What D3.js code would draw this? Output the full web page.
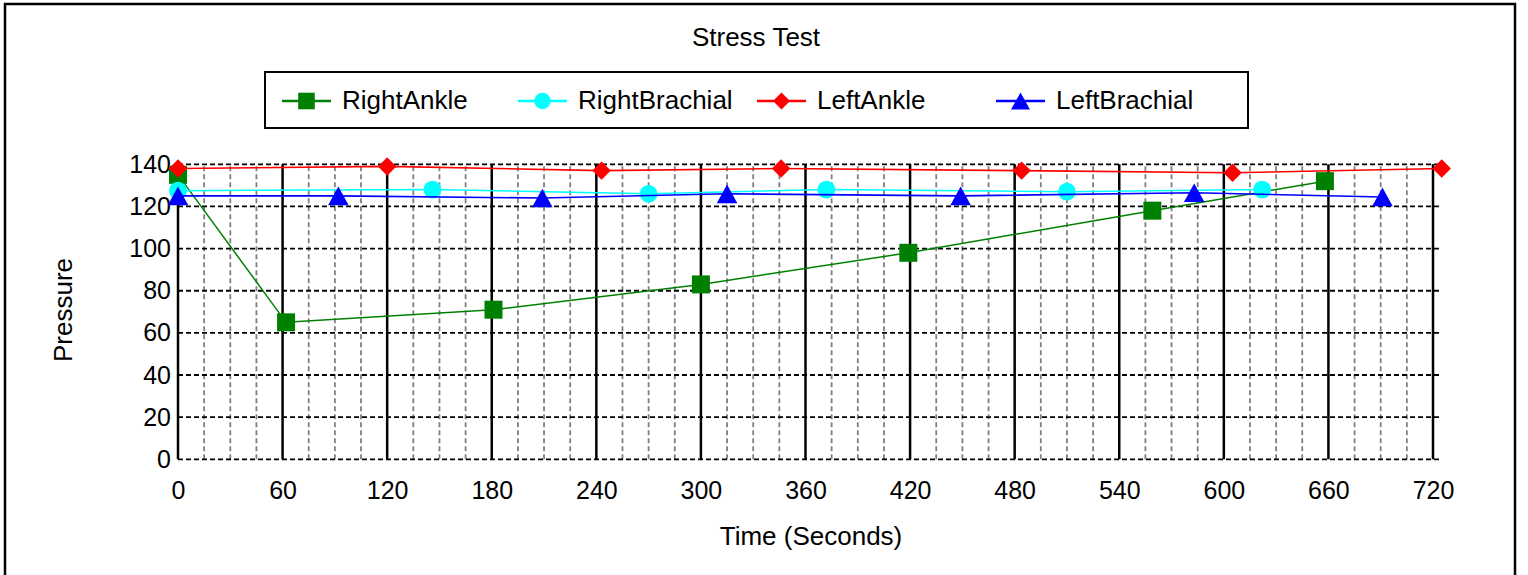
<!DOCTYPE html>
<html lang="en">
<head>
    <meta charset="UTF-8">
    <title>Stress Test</title>
    <script src="https://d3js.org/d3.v7.min.js"></script>
    <style>
        body { margin: 0; background: #fff; }
        svg { display: block; font-family: "Liberation Sans", Arial, sans-serif; }
    </style>
</head>
<body>
    <svg id="chart" width="1528" height="575"></svg>
    <script>
        // series data (seconds, pressure)
        const seriesNames = ["RightAnkle", "RightBrachial", "LeftAnkle", "LeftBrachial"];
        const rightAnkleTime = [0, 62, 181, 300, 419, 559, 658];
        const rightAnkleValue = [135, 65, 71, 83, 98, 118, 132];
        const rightBrachialTime = [0, 146, 270, 372, 510, 622];
        const rightBrachialValue = [127.5, 128, 126, 128, 127, 128];
        const leftAnkleTime = [0, 120, 243, 346, 484, 605, 725];
        const leftAnkleValue = [138, 139, 137, 138, 137, 136, 138];
        const leftBrachialTime = [0, 92, 209, 315, 449, 583, 691];
        const leftBrachialValue = [125, 125, 124, 126, 125, 126.5, 124.5];

        const xTicks = [0, 60, 120, 180, 240, 300, 360, 420, 480, 540, 600, 660, 720];
        const yTicks = [0, 20, 40, 60, 80, 100, 120, 140];

        const svg = d3.select("#chart");

        const x = d3.scaleLinear().domain([0, 720]).range([178, 1433]);
        const y = d3.scaleLinear().domain([0, 140]).range([459.3, 164.3]);

        // custom marker shapes
        const diamond = {
            draw(ctx, size) {
                const r = Math.sqrt(size) / 2;
                ctx.moveTo(0, -r); ctx.lineTo(r, 0); ctx.lineTo(0, r); ctx.lineTo(-r, 0); ctx.closePath();
            }
        };
        const triangle = {
            draw(ctx, size) {
                const r = Math.sqrt(size) / 2;
                ctx.moveTo(0, -r); ctx.lineTo(r * 1.1, r); ctx.lineTo(-r * 1.1, r); ctx.closePath();
            }
        };

        const series = [
            { name: seriesNames[0], t: rightAnkleTime, v: rightAnkleValue, color: "#008000", type: d3.symbolSquare, size: 324, lw: 1.5 },
            { name: seriesNames[1], t: rightBrachialTime, v: rightBrachialValue, color: "#00FFFF", type: d3.symbolCircle, size: 250, lw: 1.5 },
            { name: seriesNames[2], t: leftAnkleTime, v: leftAnkleValue, color: "#FF0000", type: diamond, size: 340, lw: 1.6 },
            { name: seriesNames[3], t: leftBrachialTime, v: leftBrachialValue, color: "#0000FF", type: triangle, size: 350, lw: 1.6 }
        ];

        // outer frame
        svg.append("rect")
            .attr("x", 5).attr("y", 4)
            .attr("width", 1510).attr("height", 620)
            .attr("fill", "none").attr("stroke", "#000").attr("stroke-width", 2.5);

        // title
        svg.append("text")
            .attr("x", 756).attr("y", 46)
            .attr("text-anchor", "middle")
            .attr("font-size", 26)
            .text("Stress Test");

        // minor vertical grid (every 15 s)
        const minor = d3.range(15, 720, 15).filter(d => d % 60 !== 0);
        svg.append("g").selectAll("line")
            .data(minor).enter().append("line")
            .attr("x1", d => x(d)).attr("x2", d => x(d))
            .attr("y1", y(0)).attr("y2", y(140))
            .attr("stroke", "#808080").attr("stroke-width", 1.8)
            .attr("stroke-dasharray", "5 3");

        // horizontal grid
        svg.append("g").selectAll("line")
            .data(yTicks).enter().append("line")
            .attr("x1", x(0)).attr("x2", x(720) + 8)
            .attr("y1", d => y(d)).attr("y2", d => y(d))
            .attr("stroke", "#000").attr("stroke-width", 1.8)
            .attr("stroke-dasharray", "5 3");

        // major vertical grid
        svg.append("g").selectAll("line")
            .data(xTicks).enter().append("line")
            .attr("x1", d => x(d)).attr("x2", d => x(d))
            .attr("y1", y(0)).attr("y2", y(140))
            .attr("stroke", "#000").attr("stroke-width", 2.5);

        // axes (labels only)
        const xAxis = svg.append("g")
            .attr("transform", `translate(0,${y(0)})`)
            .call(d3.axisBottom(x).tickValues(xTicks).tickSize(0).tickPadding(22));
        xAxis.select(".domain").remove();
        xAxis.selectAll("text").attr("font-size", 25).attr("fill", "#000").attr("font-family", null);

        const yAxis = svg.append("g")
            .attr("transform", `translate(${x(0)},0)`)
            .call(d3.axisLeft(y).tickValues(yTicks).tickSize(0).tickPadding(7));
        yAxis.select(".domain").remove();
        yAxis.selectAll("text").attr("font-size", 25).attr("fill", "#000").attr("font-family", null);

        // axis titles
        svg.append("text")
            .attr("x", 811).attr("y", 545)
            .attr("text-anchor", "middle")
            .attr("font-size", 26)
            .text("Time (Seconds)");

        svg.append("text")
            .attr("transform", "translate(72,310) rotate(-90)")
            .attr("text-anchor", "middle")
            .attr("font-size", 26)
            .text("Pressure");

        // series
        const line = d3.line().x(d => x(d[0])).y(d => y(d[1]));
        series.forEach(s => {
            const pts = s.t.map((t, i) => [t, s.v[i]]);
            const g = svg.append("g");
            g.append("path")
                .attr("d", line(pts))
                .attr("fill", "none")
                .attr("stroke", s.color)
                .attr("stroke-width", s.lw);
            g.selectAll("path.marker")
                .data(pts).enter().append("path")
                .attr("class", "marker")
                .attr("transform", d => `translate(${x(d[0])},${y(d[1])})`)
                .attr("d", d3.symbol().type(s.type).size(s.size))
                .attr("fill", s.color);
        });

        // legend
        const legend = svg.append("g");
        legend.append("rect")
            .attr("x", 265).attr("y", 72)
            .attr("width", 983).attr("height", 56)
            .attr("fill", "#fff").attr("stroke", "#000").attr("stroke-width", 2);

        const legendX = [282, 518, 757, 996];
        series.forEach((s, i) => {
            const lx = legendX[i];
            legend.append("line")
                .attr("x1", lx).attr("x2", lx + 49)
                .attr("y1", 101).attr("y2", 101)
                .attr("stroke", s.color).attr("stroke-width", 2.5);
            legend.append("path")
                .attr("transform", `translate(${lx + 24.5},101)`)
                .attr("d", d3.symbol().type(s.type).size(s.size * 0.85))
                .attr("fill", s.color);
            legend.append("text")
                .attr("x", lx + 60).attr("y", 109)
                .attr("font-size", 26)
                .text(s.name);
        });
    </script>
</body>
</html>
